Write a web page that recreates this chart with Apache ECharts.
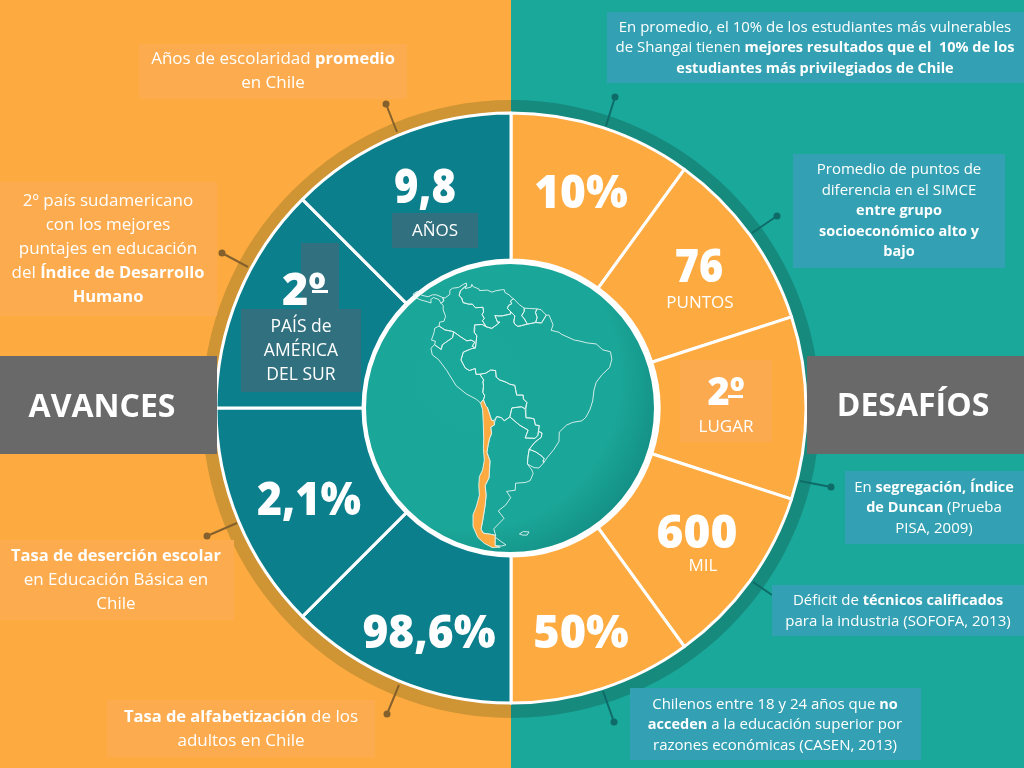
<!DOCTYPE html>
<html>
<head>
<meta charset="utf-8">
<style>
  html, body { margin: 0; padding: 0; }
  #chart { width: 1024px; height: 768px; }
</style>
<script src="https://cdn.jsdelivr.net/npm/echarts@6/dist/echarts.min.js"></script>
</head>
<body>
<div id="chart"></div>
<script>
// slices clockwise from 12 o'clock, right half has 5 parts, left half 4
const sliceNames = ['10%', '76', '2º lugar', '600', '50%', '98,6%', '2,1%', '2º', '9,8'];
const sliceSpans = [36, 36, 36, 36, 36, 45, 45, 45, 45];
const rimSpans = [1, 1];

const bigNumbers = ['9,8', '2º', '2,1%', '98,6%', '10%', '76', '2º', '600', '50%'];
const unitLabels = ['AÑOS', 'PAÍS de\nAMÉRICA\nDEL SUR', 'PUNTOS', 'LUGAR', 'MIL'];
const headings = ['AVANCES', 'DESAFÍOS'];

const notesLeft = [
  'Años de escolaridad {b|promedio}\nen Chile',
  '2º país sudamericano\ncon los mejores\npuntajes en educación\ndel {b|Índice de Desarrollo}\n{b|Humano}',
  '{b|Tasa de deserción escolar}\nen Educación Básica en\nChile',
  '{b|Tasa de alfabetización} de los\nadultos en Chile'
];
const notesRight = [
  'En promedio, el 10% de los estudiantes más vulnerables\nde Shangai tienen {b|mejores resultados que el  10% de los}\n{b|estudiantes más privilegiados de Chile}',
  'Promedio de puntos de\ndiferencia en el SIMCE\n{b|entre grupo}\n{b|socioeconómico alto y}\n{b|bajo}',
  'En {b|segregación, Índice}\n{b|de Duncan} (Prueba\nPISA, 2009)',
  'Déficit de {b|técnicos calificados}\npara la industria (SOFOFA, 2013)',
  'Chilenos entre 18 y 24 años que {b|no}\n{b|acceden} a la educación superior por\nrazones económicas (CASEN, 2013)'
];

// country outlines, lon/lat
const countries = {
  'Panamá': [[-84.7,9.6],[-83.6,10.3],[-82.6,9.3],[-81,8.9],[-79.9,9.4],[-78.9,9.4],[-77.4,8.7],[-77.2,7.9],[-77.9,7.2],[-78.4,8.2],[-79.7,8.7],[-80.4,8.2],[-80.4,7.3],[-81.2,7.6],[-82.9,8.1],[-84.2,8.7]],
  'Colombia': [[-77.4,8.7],[-76.8,8.6],[-75.6,9.5],[-75.5,10.6],[-74.8,11.1],[-73.3,11.3],[-71.9,12.2],[-71.3,12.4],[-71.3,11.8],[-72.2,11.1],[-72.9,10.4],[-73.3,9.2],[-72.7,8.6],[-72.4,7.4],[-71,7],[-70.1,7],[-69.4,6.1],[-67.5,6.2],[-67.4,5],[-67.8,4.4],[-67.3,3.3],[-67.8,2.8],[-66.9,1.2],[-67.9,1.8],[-69.8,1.7],[-69.8,0.6],[-70,0.6],[-70,-0.2],[-69.4,-1.1],[-69.9,-4.2],[-70.7,-3.8],[-70,-2.7],[-70.9,-2.2],[-72,-2.4],[-73.6,-1.3],[-75.2,-0.1],[-75.8,0.1],[-77.4,0.4],[-78.8,1.4],[-78.6,2.4],[-77.5,2.6],[-77,3.9],[-77.5,5.6],[-77.4,6.7],[-77.9,7.2],[-77.2,7.9]],
  'Venezuela': [[-71.3,11.8],[-71.7,11],[-70.2,11.4],[-70,12.1],[-69.7,11.5],[-68.3,10.9],[-68.2,10.5],[-66.2,10.6],[-65.1,10.1],[-64.3,10.4],[-62.7,10.7],[-62,10.7],[-61.9,10],[-60.9,9.4],[-60.1,8.6],[-59.8,8.4],[-60.6,7.8],[-60.3,7.1],[-61.1,6.7],[-61.4,5.9],[-60.7,5.2],[-60.6,4.5],[-62.8,4],[-63.9,4],[-64.6,4.1],[-64,2.4],[-63.4,2.4],[-64,1.9],[-65.5,0.8],[-66.9,1.2],[-67.8,2.8],[-67.3,3.3],[-67.8,4.4],[-67.4,5],[-67.5,6.2],[-69.4,6.1],[-70.1,7],[-71,7],[-72.4,7.4],[-72.7,8.6],[-73.3,9.2],[-72.9,10.4],[-72.2,11.1]],
  'Guyana': [[-59.8,8.4],[-58.4,6.9],[-57.2,6],[-57.2,5.2],[-57.9,4],[-57.3,3.4],[-56.5,1.9],[-58,1.5],[-58.9,1.3],[-59.7,1.9],[-59.9,2.5],[-59.6,4],[-60.7,5.2],[-61.4,5.9],[-61.1,6.7],[-60.3,7.1],[-60.6,7.8]],
  'Suriname': [[-57.2,5.2],[-57.2,6],[-55.9,5.9],[-54,5.8],[-54.4,4.9],[-54,3.6],[-54.4,2.3],[-55.9,2],[-56.5,1.9],[-57.3,3.4],[-57.9,4]],
  'Guayana Francesa': [[-54,5.8],[-53,5.6],[-51.7,4.2],[-52.9,2.2],[-54.4,2.3],[-54,3.6],[-54.4,4.9]],
  'Brasil': [[-51.7,4.2],[-51,4.2],[-50,1.7],[-50.5,0.3],[-48.5,-0.2],[-47.9,-0.7],[-44.6,-2.2],[-43.4,-2.4],[-41.5,-2.9],[-39,-3.2],[-37.3,-4.7],[-35.3,-5.2],[-34.8,-7.1],[-35.2,-9.2],[-37.1,-11.1],[-38.5,-13],[-39,-15],[-39.2,-17.8],[-39.8,-19.9],[-40.9,-22],[-42,-22.9],[-44.6,-23.3],[-46.4,-24],[-48.5,-25.8],[-48.6,-28.2],[-50.2,-30.3],[-52.1,-32.2],[-53.4,-33.7],[-53.5,-33],[-53.1,-32.7],[-53.8,-32],[-55.6,-30.9],[-57.6,-30.2],[-55.8,-28.4],[-53.8,-27.1],[-53.6,-26],[-54.6,-25.6],[-54.3,-24.1],[-55.4,-24],[-55.7,-22.4],[-56.7,-22.2],[-58,-22.1],[-57.9,-20],[-58.1,-19.8],[-57.5,-18.2],[-58.4,-17.3],[-58.4,-16.3],[-60.2,-16.3],[-60.5,-13.8],[-61.9,-13.5],[-62.8,-13],[-64.5,-12.4],[-65.3,-11.7],[-65.3,-10],[-66.6,-9.9],[-68,-10.7],[-69.6,-10.95],[-70.6,-11],[-70.6,-9.5],[-72.2,-10],[-73.2,-9.4],[-74,-7.3],[-73.1,-5.3],[-70.9,-4.4],[-69.9,-4.2],[-69.4,-1.1],[-70,-0.2],[-70,0.6],[-69.8,0.6],[-69.8,1.7],[-67.9,1.8],[-66.9,1.2],[-65.5,0.8],[-64,1.9],[-63.4,2.4],[-64,2.4],[-64.6,4.1],[-63.9,4],[-62.8,4],[-60.6,4.5],[-60.7,5.2],[-59.6,4],[-59.9,2.5],[-59.7,1.9],[-58.9,1.3],[-58,1.5],[-56.5,1.9],[-55.9,2],[-54.4,2.3],[-52.9,2.2]],
  'Ecuador': [[-78.8,1.4],[-77.4,0.4],[-75.8,0.1],[-75.2,-0.1],[-75.6,-1.6],[-77,-2.5],[-78.3,-3.4],[-78.7,-4.6],[-80.3,-3.4],[-80,-2.5],[-81,-2.2],[-80.1,0],[-80,0.8]],
  'Perú': [[-80.3,-3.4],[-81.3,-4.3],[-81.2,-6],[-79.8,-7.2],[-78.2,-10],[-76.4,-13.9],[-74,-16],[-71.4,-17.4],[-70.4,-18.35],[-69.5,-17.5],[-69,-16.5],[-69.4,-15.6],[-69,-14],[-69,-12.7],[-68.7,-12.5],[-69.6,-10.95],[-70.6,-11],[-70.6,-9.5],[-72.2,-10],[-73.2,-9.4],[-74,-7.3],[-73.1,-5.3],[-70.9,-4.4],[-69.9,-4.2],[-70.7,-3.8],[-70,-2.7],[-70.9,-2.2],[-72,-2.4],[-73.6,-1.3],[-75.2,-0.1],[-75.6,-1.6],[-77,-2.5],[-78.3,-3.4],[-78.7,-4.6]],
  'Bolivia': [[-69.6,-10.95],[-68,-10.7],[-66.6,-9.9],[-65.3,-10],[-65.3,-11.7],[-64.5,-12.4],[-62.8,-13],[-61.9,-13.5],[-60.5,-13.8],[-60.2,-16.3],[-58.4,-16.3],[-58.4,-17.3],[-57.5,-18.2],[-58.1,-19.8],[-59.1,-19.3],[-61.8,-19.6],[-62.6,-21.9],[-64.3,-22.9],[-65,-22.1],[-66.3,-21.8],[-67.2,-22.8],[-67.9,-22.8],[-68.2,-21.5],[-68.7,-19.4],[-69.1,-19],[-69.5,-17.5],[-69,-16.5],[-69.4,-15.6],[-69,-14],[-69,-12.7],[-68.7,-12.5]],
  'Paraguay': [[-58.1,-19.8],[-57.9,-20],[-58,-22.1],[-56.7,-22.2],[-55.7,-22.4],[-55.4,-24],[-54.3,-24.1],[-54.6,-25.6],[-54.8,-26.6],[-55.7,-27.4],[-58.6,-27.3],[-57.6,-25.3],[-60,-24],[-62.6,-21.9],[-61.8,-19.6],[-59.1,-19.3]],
  'Uruguay': [[-57.6,-30.2],[-55.6,-30.9],[-53.8,-32],[-53.1,-32.7],[-53.5,-33],[-53.4,-33.7],[-54.9,-35],[-56.4,-34.9],[-58.4,-34],[-58.2,-32.5]],
  'Argentina': [[-66.3,-21.8],[-65,-22.1],[-64.3,-22.9],[-62.6,-21.9],[-60,-24],[-57.6,-25.3],[-58.6,-27.3],[-55.7,-27.4],[-54.8,-26.6],[-54.6,-25.6],[-53.6,-26],[-53.8,-27.1],[-55.8,-28.4],[-57.6,-30.2],[-58.2,-32.5],[-58.4,-34],[-57.1,-35.5],[-56.7,-36.4],[-57.6,-38.2],[-59,-38.7],[-62.2,-38.9],[-62.3,-40.7],[-65,-41],[-63.7,-42.6],[-65.3,-44.5],[-67.6,-46],[-65.8,-47.9],[-69,-50.6],[-68.4,-52.3],[-70,-52],[-72.3,-51.7],[-73,-50.7],[-72.5,-48.6],[-71.7,-44.5],[-71.4,-42],[-71.7,-39.5],[-70.5,-37.5],[-70.4,-36.1],[-69.9,-33.2],[-70.5,-31],[-69.8,-29],[-69.1,-27.3],[-68.4,-26.2],[-68.4,-24.5],[-67.3,-24],[-67,-23],[-67.2,-22.8]],
  'Tierra del Fuego': [[-68.6,-52.7],[-68.6,-54.9],[-66.5,-55],[-65.2,-54.7],[-67,-53.7]],
  'Malvinas': [[-61,-51.9],[-59.8,-51.3],[-58,-51.4],[-58.6,-52.2],[-60,-52.2]],
  'Chile': [[-70.4,-18.35],[-69.5,-17.5],[-69.1,-19],[-68.7,-19.4],[-68.2,-21.5],[-67.9,-22.8],[-67.2,-22.8],[-67,-23],[-67.3,-24],[-68.4,-24.5],[-68.4,-26.2],[-69.1,-27.3],[-69.8,-29],[-70.5,-31],[-69.9,-33.2],[-70.4,-36.1],[-70.5,-37.5],[-71.7,-39.5],[-71.4,-42],[-71.7,-44.5],[-72.5,-48.6],[-73,-50.7],[-72.3,-51.7],[-70,-52],[-68.4,-52.3],[-68.6,-52.7],[-68.6,-54.9],[-67,-55.3],[-69.5,-55.4],[-72,-54.3],[-74,-52.8],[-75.5,-50],[-75.5,-47],[-74.5,-45],[-73.5,-42],[-73.7,-39.5],[-73.5,-37.2],[-72.5,-35.5],[-71.6,-33],[-71.4,-30],[-70.9,-27.5],[-70.4,-23.5],[-70.1,-20]]
};

const ORANGE = '#fdab41', TEAL = '#1aa89a', DEEP = '#0c7f8d';
const FONT = '"Open Sans", sans-serif';

const geoJson = {
  type: 'FeatureCollection',
  features: Object.keys(countries).map(name => ({
    type: 'Feature',
    properties: { name: name },
    geometry: { type: 'Polygon', coordinates: [countries[name].concat([countries[name][0]])] }
  }))
};
echarts.registerMap('sudamerica', geoJson);

// the picture's map is drawn on a globe, meridians close in toward the south
function lonScale(lat) {
  if (lat > -5) return 3.9 + (lat + 5) * 0.009;
  if (lat > -35) return 3.9 + (lat + 5) * 0.0233;
  return 3.2;
}
const mapProjection = {
  project: p => [561 + lonScale(p[1]) * (p[0] + 48), 331.5 - p[1] * 3.9],
  unproject: p => [(p[0] - 561) / lonScale((331.5 - p[1]) / 3.9) - 48, (331.5 - p[1]) / 3.9]
};
let mapBox = [Infinity, Infinity, -Infinity, -Infinity];
Object.values(countries).forEach(ring => ring.forEach(p => {
  const q = mapProjection.project(p);
  mapBox = [Math.min(mapBox[0], q[0]), Math.min(mapBox[1], q[1]), Math.max(mapBox[2], q[0]), Math.max(mapBox[3], q[1])];
}));

let graphics = [];

function box(x0, y0, x1, y1, fill) {
  graphics.push({ type: 'rect', z: 20, silent: true, shape: { x: x0, y: y0, width: x1 - x0, height: y1 - y0 }, style: { fill: fill } });
}

function label(x, y, text, size, weight, lineHeight, boldSize) {
  graphics.push({
    type: 'text', z: 30, silent: true,
    style: {
      x: x, y: y, text: text, align: 'center', verticalAlign: 'middle',
      fontFamily: FONT, fontSize: size, fontWeight: weight || 400, lineHeight: lineHeight,
      fill: '#fff',
      rich: { b: { fontFamily: FONT, fontSize: boldSize || size, fontWeight: 700, lineHeight: lineHeight, fill: '#fff' } }
    }
  });
}

function big(x, y, text, size, squeeze) {
  graphics.push({
    type: 'text', z: 30, silent: true,
    x: x, y: y, scaleX: squeeze || 1,
    style: {
      x: 0, y: 0, text: text, align: 'center', verticalAlign: 'middle',
      fontFamily: FONT, fontSize: size, fontWeight: 800, fill: '#fff',
      shadowColor: 'rgba(0,0,0,0.25)', shadowBlur: 3, shadowOffsetX: 1, shadowOffsetY: 1
    }
  });
}

function leader(x1, y1, x2, y2, color, dot) {
  graphics.push({ type: 'line', z: 10, silent: true, shape: { x1: x1, y1: y1, x2: x2, y2: y2 }, style: { stroke: color, lineWidth: 2 } });
  if (dot) graphics.push({ type: 'circle', z: 10, silent: true, shape: { cx: x1, cy: y1, r: 3.5 }, style: { fill: color } });
}

// backgrounds
graphics.push({ type: 'rect', z: -10, silent: true, shape: { x: 0, y: 0, width: 511, height: 768 }, style: { fill: ORANGE } });
graphics.push({ type: 'rect', z: -10, silent: true, shape: { x: 511, y: 0, width: 513, height: 768 }, style: { fill: TEAL } });

// leaders
const BROWN = '#84602c', DARKTEAL = '#0f6b68';
leader(386, 104, 397, 132, BROWN, true);
leader(222, 253, 248, 267, BROWN, true);
leader(207, 536, 237, 523, BROWN, true);
leader(387, 714, 399, 685, BROWN, true);
leader(615, 97, 606, 126, DARKTEAL, true);
leader(777, 216, 752, 233, DARKTEAL, true);
leader(831, 487, 800, 481, DARKTEAL, true);
leader(772, 595, 753, 582, DARKTEAL, false);
leader(614, 722, 603, 691, DARKTEAL, true);

// center disc sits under the map
graphics.push({
  type: 'circle', z: 1, silent: true,
  shape: { cx: 510, cy: 408, r: 146.5 },
  style: {
    fill: new echarts.graphic.RadialGradient(0.36, 0.4, 0.75, [
      { offset: 0, color: '#1aa89a' }, { offset: 0.68, color: '#1aa698' }, { offset: 1, color: '#11837c' }
    ]),
    stroke: '#fff', lineWidth: 5
  }
});

// grey headings
box(0, 356, 217, 454, '#696969');
box(807, 356, 1024, 454, '#696969');
label(102, 408, headings[0], 32, 700);
label(913, 407, headings[1], 32, 700);

// soft boxes behind units
const SLATE = '#31717f', SOFT = '#fcaa50', NOTE = '#33a1b3', NOTE_L = '#fcab4e';
box(392, 213, 478, 248, SLATE);
box(301, 243, 339, 309, SLATE);
box(241, 309, 361, 392, SLATE);
box(680, 360, 772, 442, SOFT);

big(425, 189, bigNumbers[0], 48, 0.87);
big(304, 292, bigNumbers[1], 45);
big(309, 502, bigNumbers[2], 46, 0.93);
big(429, 635, bigNumbers[3], 46, 0.96);
big(581, 195, bigNumbers[4], 46, 0.96);
big(699, 269, bigNumbers[5], 46, 0.9);
big(726, 394, bigNumbers[6], 38);
big(697, 535, bigNumbers[7], 46);
big(581, 635, bigNumbers[8], 46, 0.98);
// the ordinal mark is underlined in the picture
box(312, 290, 328, 293, '#fff');
box(728, 395, 743, 398, '#fff');

label(435, 231, unitLabels[0], 17);
label(301, 351, unitLabels[1], 17.5, 400, 24);
label(700, 303, unitLabels[2], 17);
label(726, 427, unitLabels[3], 17);
label(703, 566, unitLabels[4], 17);

// notes, left side
box(139, 44, 407, 99, NOTE_L);
box(0, 182, 217, 316, NOTE_L);
box(0, 540, 234, 620, NOTE_L);
box(107, 700, 375, 757, NOTE_L);
label(273, 71, notesLeft[0], 17, 400, 24, 16.5);
label(108, 249, notesLeft[1], 17, 400, 24, 16.5);
label(116, 580, notesLeft[2], 17, 400, 24, 16.5);
label(241, 729, notesLeft[3], 17, 400, 24, 16.5);

// notes, right side
box(607, 12, 1024, 83, NOTE);
box(793, 154, 1005, 268, NOTE);
box(845, 471, 1024, 544, NOTE);
box(772, 585, 1024, 636, NOTE);
box(630, 688, 921, 760, NOTE);
label(815, 48, notesRight[0], 15, 400, 20.5, 14.5);
label(899, 211, notesRight[1], 15, 400, 20.5, 14.5);
label(934, 508, notesRight[2], 15, 400, 20.5, 14.5);
label(898, 611, notesRight[3], 15, 400, 20.5, 14.5);
label(775, 725, notesRight[4], 15, 400, 20.5, 14.5);

const sliceColors = [ORANGE, ORANGE, ORANGE, ORANGE, ORANGE, DEEP, DEEP, DEEP, DEEP];

let myChart = echarts.init(document.getElementById('chart'));
let option = {
  animation: false,
  graphic: { elements: graphics },
  series: [
    {
      type: 'pie', z: 2, silent: true,
      center: [511, 409], radius: [292, 309], startAngle: 90,
      label: { show: false }, labelLine: { show: false },
      data: rimSpans.map((v, i) => ({ value: v, itemStyle: { color: i === 0 ? '#178a7e' : '#cf9433' } }))
    },
    {
      type: 'pie', z: 3, silent: true,
      center: [511, 408], radius: [148, 295], startAngle: 90, clockwise: true,
      label: { show: false }, labelLine: { show: false },
      itemStyle: { borderColor: '#fff', borderWidth: 3 },
      data: sliceSpans.map((v, i) => ({ value: v, name: sliceNames[i], itemStyle: { color: sliceColors[i] } }))
    },
    {
      type: 'map', map: 'sudamerica', z: 4, silent: true,
      projection: mapProjection,
      left: mapBox[0], top: mapBox[1], width: mapBox[2] - mapBox[0], height: mapBox[3] - mapBox[1],
      label: { show: false },
      itemStyle: { areaColor: 'transparent', borderColor: '#e4f4f1', borderWidth: 0.9 },
      data: [{ name: 'Chile', itemStyle: { areaColor: ORANGE } }]
    }
  ]
};
myChart.setOption(option);
</script>
</body>
</html>
